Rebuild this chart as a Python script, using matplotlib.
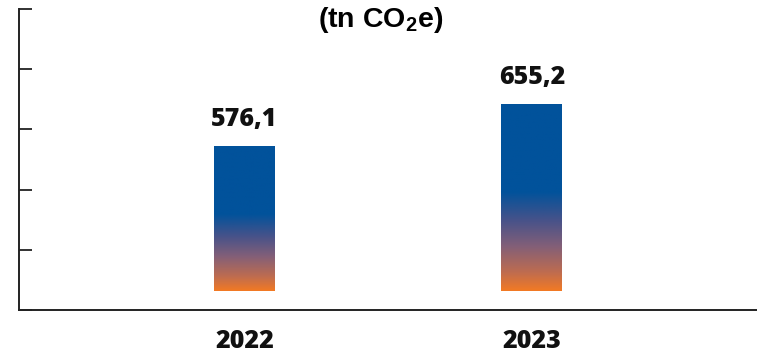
import numpy as np
import matplotlib.pyplot as plt
from matplotlib.colors import LinearSegmentedColormap

years = ["2022", "2023"]
values = [576.1, 655.2]
value_labels = ["576,1", "655,2"]
baseline = 303.0

plt.rcParams['mathtext.fontset'] = 'custom'
plt.rcParams['mathtext.rm'] = 'Liberation Sans:bold'
plt.rcParams['mathtext.it'] = 'Liberation Sans:bold'
plt.rcParams['mathtext.bf'] = 'Liberation Sans:bold'

fig = plt.figure(figsize=(7.57, 3.56), dpi=100)
ax = fig.add_axes([19 / 757, 1 - 310 / 356, 1 - 19 / 757, 301 / 356])

# degradé orange (bas) -> bleu
cmap = LinearSegmentedColormap.from_list(
    "bo", [(0.0, "#F27A24"), (0.1, "#BE6C50"), (0.24, "#825F78"),
           (0.38, "#46528A"), (0.53, "#01529B"), (1.0, "#01529B")])
grad = np.linspace(0, 1, 256).reshape(-1, 1)

x = np.arange(len(years))
width = 0.212
for xi, v, lab in zip(x, values, value_labels):
    ax.imshow(grad, cmap=cmap, origin='lower', aspect='auto',
              extent=(xi - width / 2, xi + width / 2, baseline, v),
              interpolation='bilinear', zorder=2)
    ax.annotate(lab, (xi, v), xytext=(0, 10), textcoords='offset points',
                ha='center', va='bottom', fontsize=18, fontweight='heavy',
                family='Open Sans', color='#111111')

ax.set_xlim(-0.784, 1.783)
ax.set_ylim(267, 834)
ax.set_yticks(np.linspace(267, 834, 6))
ax.set_yticklabels([])
ax.tick_params(axis='y', direction='in', length=9, width=1.3, color='#222222')
ax.set_xticks(x)
ax.set_xticklabels(years, fontsize=18, fontweight='heavy', family='Open Sans',
                   color='#111111')
ax.tick_params(axis='x', length=0, pad=14)
for s in ['top', 'right']:
    ax.spines[s].set_visible(False)
for s in ['left', 'bottom']:
    ax.spines[s].set_linewidth(1.4)
    ax.spines[s].set_color('#222222')

fig.text(381 / 757, 1 - 20 / 356, r"(tn CO$_2$e)", ha='center', va='center',
         fontsize=20.5, fontweight='bold', family='Liberation Sans')

fig.savefig("out.png", dpi=100)
